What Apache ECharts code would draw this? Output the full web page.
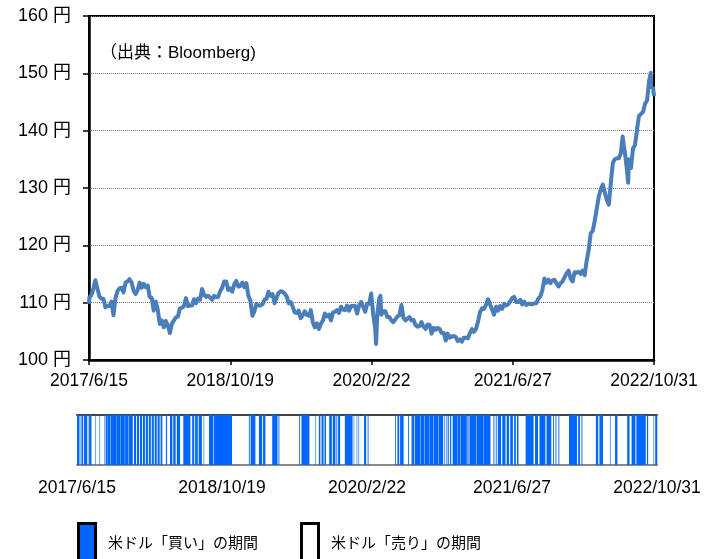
<!DOCTYPE html>
<html>
<head>
<meta charset="utf-8">
<script src="https://cdn.jsdelivr.net/npm/echarts@6/dist/echarts.min.js"></script>
<style>
  html, body { margin: 0; padding: 0; background: #fff; }
  #main { width: 718px; height: 559px; }
</style>
</head>
<body>
<div id="main"></div>
<script>
(function () {

  // axis range: 2017/6/15 .. 2022/10/31, ticks every 491 days
  var startDay = '2017/6/15';
  var endDay = '2022/10/31';
  var tickDays = 491;

  // USD/JPY weekly closes (Fridays)
  var rate2017 = [110.9, 111.3, 112.4, 113.9, 112.5, 111.1, 110.7, 110.7, 109.2, 109.4, 109.4, 110.2, 107.8, 110.8,
    112.0, 112.5, 112.6, 111.8, 113.5, 113.7, 114.1, 113.5, 112.1, 111.5, 112.2, 113.5, 112.6, 113.3, 112.7];
  var rate2018 = [113.0, 111.0, 110.8, 108.6, 110.2, 108.8, 106.3, 106.9, 105.7, 106.8, 106.0, 104.7, 106.3,
    106.9, 107.4, 107.6, 109.0, 109.1, 109.4, 110.8, 109.4, 109.5, 109.5, 110.6, 109.9, 110.7, 110.5, 112.4,
    111.4, 111.0, 111.2, 110.9, 110.5, 111.2, 111.0, 111.0, 112.0, 112.6, 113.7, 113.7, 112.2, 112.5, 111.9,
    113.2, 113.8, 112.8, 112.9, 113.5, 112.7, 113.4, 111.2, 110.3];
  var rate2019 = [107.7, 108.5, 109.8, 109.5, 109.5, 109.7, 110.5, 110.7, 111.9, 111.2, 111.5, 109.9, 110.9,
    111.7, 112.0, 111.9, 111.6, 111.1, 109.9, 110.1, 109.3, 108.3, 108.2, 108.6, 107.3, 107.8, 108.5, 107.9,
    107.7, 108.7, 106.6, 105.7, 106.4, 105.4, 106.3, 106.9, 108.1, 107.6, 107.9, 106.9, 108.3, 108.4, 108.7,
    108.2, 109.3, 108.8, 108.7, 109.5, 108.6, 109.4, 109.4, 109.4];
  var rate2020 = [108.1, 109.5, 110.1, 109.3, 108.4, 109.8, 109.8, 111.6, 107.9, 105.4, 107.9, 110.8, 107.9,
    108.5, 108.5, 107.5, 107.5, 106.9, 106.6, 107.1, 107.6, 107.8, 109.6, 107.4, 106.9, 107.2, 107.5, 106.9,
    107.0, 106.1, 105.8, 105.9, 106.6, 105.8, 105.4, 106.2, 106.1, 104.6, 105.6, 105.3, 105.6, 105.4, 104.7,
    104.7, 103.4, 104.6, 103.9, 104.1, 104.2, 104.0, 103.3, 103.6];
  var rate2021 = [103.2, 103.9, 103.9, 103.8, 104.7, 105.4, 104.9, 105.4, 106.6, 108.3, 109.0, 108.9, 109.6,
    110.6, 109.7, 108.8, 107.9, 109.3, 108.6, 109.4, 108.9, 109.8, 109.5, 109.7, 110.2, 110.8, 111.0, 110.1,
    110.1, 110.5, 109.7, 110.2, 109.6, 109.8, 109.8, 109.7, 109.9, 109.9, 110.7, 111.1, 112.2, 114.2, 113.5,
    114.0, 113.4, 113.9, 114.0, 113.4, 112.8, 113.4, 113.7, 114.4, 115.1];
  var rate2022 = [115.6, 114.2, 113.7, 115.3, 115.2, 115.4, 115.0, 115.6, 114.8, 117.3, 119.2, 122.1, 122.5,
    124.3, 126.4, 128.5, 129.8, 130.6, 129.2, 127.9, 127.1, 130.9, 134.4, 135.0, 135.2, 135.2, 136.1, 138.6,
    136.1, 133.2, 135.0, 133.5, 136.9, 137.5, 140.2, 142.6, 142.9, 143.3, 144.7, 145.3, 148.7, 147.6, 147.4];
  var firstFridays = ['2017/6/16', '2018/1/5', '2019/1/4', '2020/1/3', '2021/1/1', '2022/1/7'];
  // single days between the weekly points that show on the chart
  var extraDays = ['2017/6/15', '2020/3/9', '2020/3/24', '2022/7/14', '2022/8/2', '2022/10/20', '2022/10/31'];
  var extraRates = [109.8, 102.8, 111.2, 139.0, 130.9, 150.1, 146.0];

  // days (from 2017/6/15) when the model was long USD
  var buyPeriods = [
    [0, 7], [9, 10], [15, 20], [24, 33], [36, 37], [41, 48], [61, 62], [75, 76], [92, 93],
    [97, 103], [105, 112], [114, 131], [133, 147], [149, 161], [163, 173], [175, 188],
    [193, 199], [203, 209], [213, 219], [223, 229], [233, 239], [243, 249], [253, 259], [263, 269], [273, 279], [283, 288],
    [301, 304], [315, 322], [326, 333], [338, 348], [360, 383], [390, 396], [400, 408], [412, 422], [428, 429],
    [447, 461], [464, 524],
    [582, 584], [588, 603], [616, 626], [630, 637], [661, 678], [682, 684], [752, 754], [760, 786], [806, 807],
    [819, 823], [828, 834], [838, 842], [854, 862], [866, 874], [878, 880], [884, 890],
    [907, 932], [936, 937], [946, 947], [952, 953], [972, 978], [984, 986],
    [1077, 1079], [1085, 1090], [1094, 1105], [1121, 1123],
    [1133, 1141], [1144, 1161], [1163, 1176], [1178, 1191], [1193, 1206], [1208, 1223], [1225, 1239],
    [1243, 1244], [1249, 1250], [1255, 1258], [1263, 1266], [1272, 1286], [1288, 1297],
    [1299, 1319], [1322, 1325], [1329, 1351], [1353, 1376], [1378, 1399],
    [1410, 1412], [1418, 1420], [1425, 1435], [1440, 1450], [1455, 1462], [1467, 1475], [1480, 1485], [1490, 1494],
    [1519, 1545], [1551, 1560], [1566, 1585], [1590, 1605], [1612, 1614], [1620, 1622], [1630, 1632],
    [1666, 1692], [1697, 1702], [1708, 1710], [1757, 1764], [1769, 1780], [1805, 1806], [1822, 1829], [1863, 1870],
    [1878, 1890], [1894, 1925], [1930, 1933], [1951, 1952], [1958, 1964]
  ];

  var yTicks = [100, 160, 10];

  function toUTC(str) {
    var p = str.split('/').map(Number);
    return Date.UTC(p[0], p[1] - 1, p[2]);
  }
  var t0 = toUTC(startDay);
  function dayOf(str) {
    return Math.round((toUTC(str) - t0) / 86400000);
  }
  function dateLabel(v) {
    var d = new Date(t0 + v * 86400000);
    return d.getUTCFullYear() + '/' + (d.getUTCMonth() + 1) + '/' + d.getUTCDate();
  }
  var lastDay = dayOf(endDay);

  var lineData = [];
  [rate2017, rate2018, rate2019, rate2020, rate2021, rate2022].forEach(function (arr, k) {
    var d0 = dayOf(firstFridays[k]);
    arr.forEach(function (v, i) { lineData.push([d0 + i * 7, v]); });
  });
  extraDays.forEach(function (s, i) { lineData.push([dayOf(s), extraRates[i]]); });
  lineData.sort(function (a, b) { return a[0] - b[0]; });

  var latin = "'Liberation Sans', Arial, 'Noto Sans CJK JP', sans-serif";
  var jp = "'Noto Sans CJK JP', sans-serif";

  var myChart = echarts.init(document.getElementById('main'), null, { renderer: 'canvas' });

  var option = {
    animation: false,
    backgroundColor: '#fff',
    grid: [
      { left: 89, top: 16, width: 565, height: 344, show: true, borderColor: '#000', borderWidth: 2 },
      { left: 77, top: 415, width: 580, height: 50 }
    ],
    xAxis: [{
      gridIndex: 0, type: 'value', min: 0, max: lastDay, interval: tickDays,
      axisLine: { lineStyle: { color: '#000', width: 2.5 } },
      axisTick: { show: true, length: 5, lineStyle: { color: '#000', width: 1.5 } },
      splitLine: { show: false },
      axisLabel: { formatter: dateLabel, color: '#000', fontSize: 17.5, fontFamily: latin, margin: 12,
        showMinLabel: true, showMaxLabel: true }
    }, {
      gridIndex: 1, type: 'value', min: 0, max: lastDay, interval: tickDays,
      axisLine: { lineStyle: { color: '#888', width: 2 } },
      axisTick: { show: false },
      splitLine: { show: false },
      axisLabel: { formatter: dateLabel, color: '#000', fontSize: 17.5, fontFamily: latin, margin: 14,
        showMinLabel: true, showMaxLabel: true }
    }, {
      gridIndex: 1, type: 'value', position: 'top', min: 0, max: lastDay,
      axisLine: { lineStyle: { color: '#444', width: 2 } },
      axisTick: { show: false }, axisLabel: { show: false }, splitLine: { show: false }
    }],
    yAxis: [{
      gridIndex: 0, type: 'value', min: yTicks[0], max: yTicks[1], interval: yTicks[2],
      axisLine: { show: true, lineStyle: { color: '#000', width: 2.5 } },
      axisTick: { show: true, length: 6, lineStyle: { color: '#000', width: 1.5 } },
      splitLine: { lineStyle: { color: '#777', type: 'dotted', width: 1 } },
      axisLabel: { formatter: '{value} 円', color: '#000', fontSize: 18, fontFamily: latin, margin: 18 }
    }, {
      gridIndex: 1, type: 'value', min: 0, max: 1, show: false
    }],
    graphic: [
      { type: 'text', left: 100, top: 45, style: { text: '（出典：Bloomberg)', font: '17px ' + latin, fill: '#000' } },
      { type: 'rect', left: 77, top: 522, shape: { width: 17, height: 50 },
        style: { fill: '#0066FF', stroke: '#000', lineWidth: 3 } },
      { type: 'text', left: 108, top: 535, style: { text: '米ドル「買い」の期間', font: '15px ' + jp, fill: '#000' } },
      { type: 'rect', left: 300, top: 522, shape: { width: 17, height: 50 },
        style: { fill: '#fff', stroke: '#000', lineWidth: 3 } },
      { type: 'text', left: 331, top: 535, style: { text: '米ドル「売り」の期間', font: '15px ' + jp, fill: '#000' } }
    ],
    series: [{
      name: 'USD/JPY',
      type: 'line',
      xAxisIndex: 0, yAxisIndex: 0,
      data: lineData,
      showSymbol: false,
      lineStyle: { color: '#4A7EBB', width: 4, join: 'round' }
    }, {
      name: '米ドル「買い」の期間',
      type: 'custom',
      xAxisIndex: 1, yAxisIndex: 1,
      data: buyPeriods,
      encode: { x: [0, 1] },
      renderItem: function (params, api) {
        var a = api.coord([api.value(0), 0]);
        var b = api.coord([api.value(1) + 1, 1]);
        var w = b[0] - a[0];
        // very short periods come out as pale hairlines, as in the original
        return {
          type: 'rect',
          shape: { x: a[0], y: b[1], width: Math.max(w, 1), height: a[1] - b[1] },
          style: { fill: '#0066FF', opacity: Math.min(1, Math.max(w, 0.3)) }
        };
      }
    }]
  };

  myChart.setOption(option);

})();
</script>
</body>
</html>
